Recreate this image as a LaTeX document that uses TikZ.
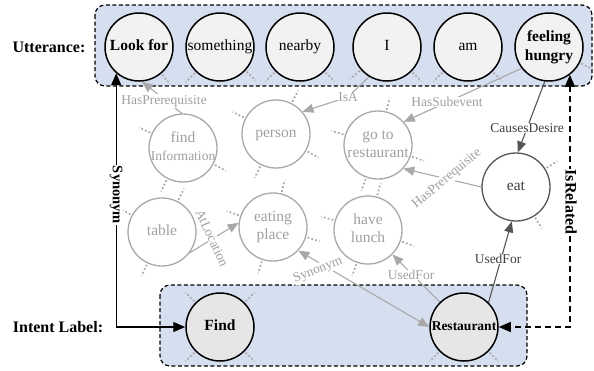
\documentclass[tikz,border=0pt]{standalone}
\usepackage{fontspec}
\setmainfont{Liberation Serif}
\usetikzlibrary{arrows.meta,calc}
\definecolor{boxfill}{HTML}{D6DFF0}
\definecolor{topfill}{HTML}{F2F2F2}
\definecolor{botfill}{HTML}{E6E6E6}
\definecolor{gline}{HTML}{A8A8A8}
\definecolor{gtext}{HTML}{A0A0A0}
\definecolor{dline}{HTML}{555555}
\definecolor{dtext}{HTML}{404040}
\definecolor{stubc}{HTML}{A8A8A8}
\pgfdeclarelayer{bg}
\pgfdeclarelayer{lines}
\pgfsetlayers{bg,lines,main}
\newcommand{\ct}[1]{\makebox[0pt]{\begin{tabular}{@{}c@{}}#1\end{tabular}}}
\tikzset{
  topc/.style={circle, draw=black, line width=1.5pt, fill=topfill, minimum size=68pt, inner sep=0pt,
    font=\fontsize{15.5}{18.5}\selectfont},
  topb/.style={topc, font=\bfseries\fontsize{15.5}{19.5}\selectfont},
  botc/.style={topc, fill=botfill, font=\bfseries\fontsize{15.5}{18.5}\selectfont},
  grayc/.style={circle, draw=gline, line width=1.3pt, fill=white, text=gtext, minimum size=68pt, inner sep=0pt,
    font=\fontsize{15.5}{18}\selectfont},
  darkc/.style={grayc, draw=dline, text=dtext},
  glabel/.style={fill=white, text=gtext, inner sep=0.6pt, font=\fontsize{13.5}{15}\selectfont},
  dlabel/.style={glabel, text=dtext},
  blabel/.style={fill=white, text=black, inner sep=1pt, font=\bfseries\fontsize{15}{17}\selectfont},
  headlabel/.style={text=black, inner sep=0pt, font=\bfseries\fontsize{16}{18}\selectfont},
  grouprect/.style={draw=black, fill=boxfill, line width=1.2pt, dash pattern=on 4pt off 2.5pt, rounded corners=10pt},
  stub/.style={draw=stubc, line width=1.7pt, dash pattern=on 1.8pt off 2.2pt},
  glink/.style={draw=gline, line width=1.1pt, -{Triangle[length=11pt,width=9pt]}},
  glinkboth/.style={draw=gline, line width=1.1pt, {Triangle[length=11pt,width=9pt]}-{Triangle[length=11pt,width=9pt]}},
  gplain/.style={draw=gline, line width=1.1pt},
  dlink/.style={draw=dline, line width=1.1pt, -{Triangle[length=11pt,width=9pt]}},
  blink/.style={draw=black, line width=1.3pt, {Triangle[length=12pt,width=10pt]}-{Triangle[length=12pt,width=10pt]}},
  rlink/.style={draw=black, line width=1.4pt, dash pattern=on 6pt off 4pt, {Triangle[length=12pt,width=10pt]}-{Triangle[length=12pt,width=10pt]}},
}
\begin{document}
\begin{tikzpicture}[x=1pt,y=-1pt]
\useasboundingbox (0,0) rectangle (594,370);

% group boxes
\begin{pgfonlayer}{bg}
  \draw[grouprect] (95,5) rectangle (592,86);
  \draw[grouprect] (160,285) rectangle (527,366);
\end{pgfonlayer}

% headings
\node[headlabel] (utt) at (49,47) {Utterance:};
\node[headlabel] (intl) at (58,327) {Intent Label:};

% utterance tokens
\node[topb] (lookfor) at (139,47) {\ct{Look for}};
\node[topc] (something) at (220,47) {\ct{something}};
\node[topc] (nearby) at (300,47) {\ct{nearby}};
\node[topc] (I) at (387,47) {\ct{I}};
\node[topc] (am) at (468,47) {\ct{am}};
\node[topb] (hungry) at (549,47) {\ct{feeling\\hungry}};

% intent labels
\node[botc] (find) at (220,327) {\ct{Find}};
\node[botc, font=\bfseries\fontsize{13.5}{16}\selectfont] (rest) at (464,327) {\ct{Restaurant}};

% knowledge nodes
\node[grayc] (findinfo) at (183,148) {\ct{find\\{\fontsize{13.5}{16}\selectfont Information}}};
\node[grayc] (person) at (276,134) {\ct{person}};
\node[grayc] (gotorest) at (378,145) {\ct{go to\\restaurant}};
\node[darkc] (eat) at (516,187) {\ct{eat}};
\node[grayc] (table) at (162,232) {\ct{table}};
\node[grayc] (eating) at (273,227) {\ct{eating\\place}};
\node[grayc] (lunch) at (368,230) {\ct{have\\lunch}};

% relation labels
\node[glabel] (hp1) at (164,101) {HasPrerequisite};
\node[glabel] (isa) at (348,97) {IsA};
\node[glabel] (hsub) at (447,102) {HasSubevent};
\node[dlabel] (cd) at (527,128) {CausesDesire};
\node[glabel, rotate=40] (hp2) at (447,179) {HasPrerequisite};
\node[glabel, rotate=-65] (atloc) at (212,238) {AtLocation};
\node[glabel, rotate=22] (syn2) at (318,270) {Synonym};
\node[glabel] (uf1) at (411,275) {UsedFor};
\node[dlabel] (uf2) at (498,259) {UsedFor};
\node[blabel, rotate=-90, font=\bfseries\fontsize{14.5}{17}\selectfont] (syn) at (116,195) {Synonym};
\node[blabel, rotate=-90, font=\bfseries\fontsize{16}{18}\selectfont] (isrel) at (571,202) {IsRelated};

\begin{pgfonlayer}{lines}
  % dotted stubs (other relations)
  \foreach \n/\a in {lookfor/310, something/226, something/317, nearby/225, nearby/315,
      I/221, I/315, am/225, am/315, hungry/333,
      findinfo/155, findinfo/332, findinfo/243,
      table/63, table/151, table/245,
      person/153, person/63, person/331, person/244,
      gotorest/76, gotorest/163, gotorest/341, gotorest/250,
      lunch/75, lunch/164, lunch/341, lunch/251,
      eating/161, eating/343, eating/76, eating/252,
      eat/32, eat/302,
      find/45, find/135, find/225, find/315, rest/225, rest/315}
    \draw[stub] ($(\n.\a)!-1.5pt!(\n.center)$) -- ($(\n.\a)!-14pt!(\n.center)$);

  % relations
  \draw[glink] (findinfo.92) -- (lookfor.275);
  \draw[gplain] (I.239) -- (isa.center);
  \draw[glink] (isa.center) -- (person.40);
  \draw[glink] (hungry.218) -- (gotorest.42);
  \draw[dlink] (hungry.263) -- (eat.87);
  \draw[glink] (eat.180) -- (gotorest.317);
  \draw[glink] (table.323) -- (eating.173);
  \draw[glinkboth] (eating.317) -- (rest.180);
  \draw[glink] (rest.134) -- (lunch.315);
  \draw[dlink] (rest.45) -- (eat.263);

  % alignment links
  \draw[blink] (lookfor.229) |- (find);
  \draw[rlink] (hungry.307) |- (rest);
\end{pgfonlayer}
\end{tikzpicture}
\end{document}
